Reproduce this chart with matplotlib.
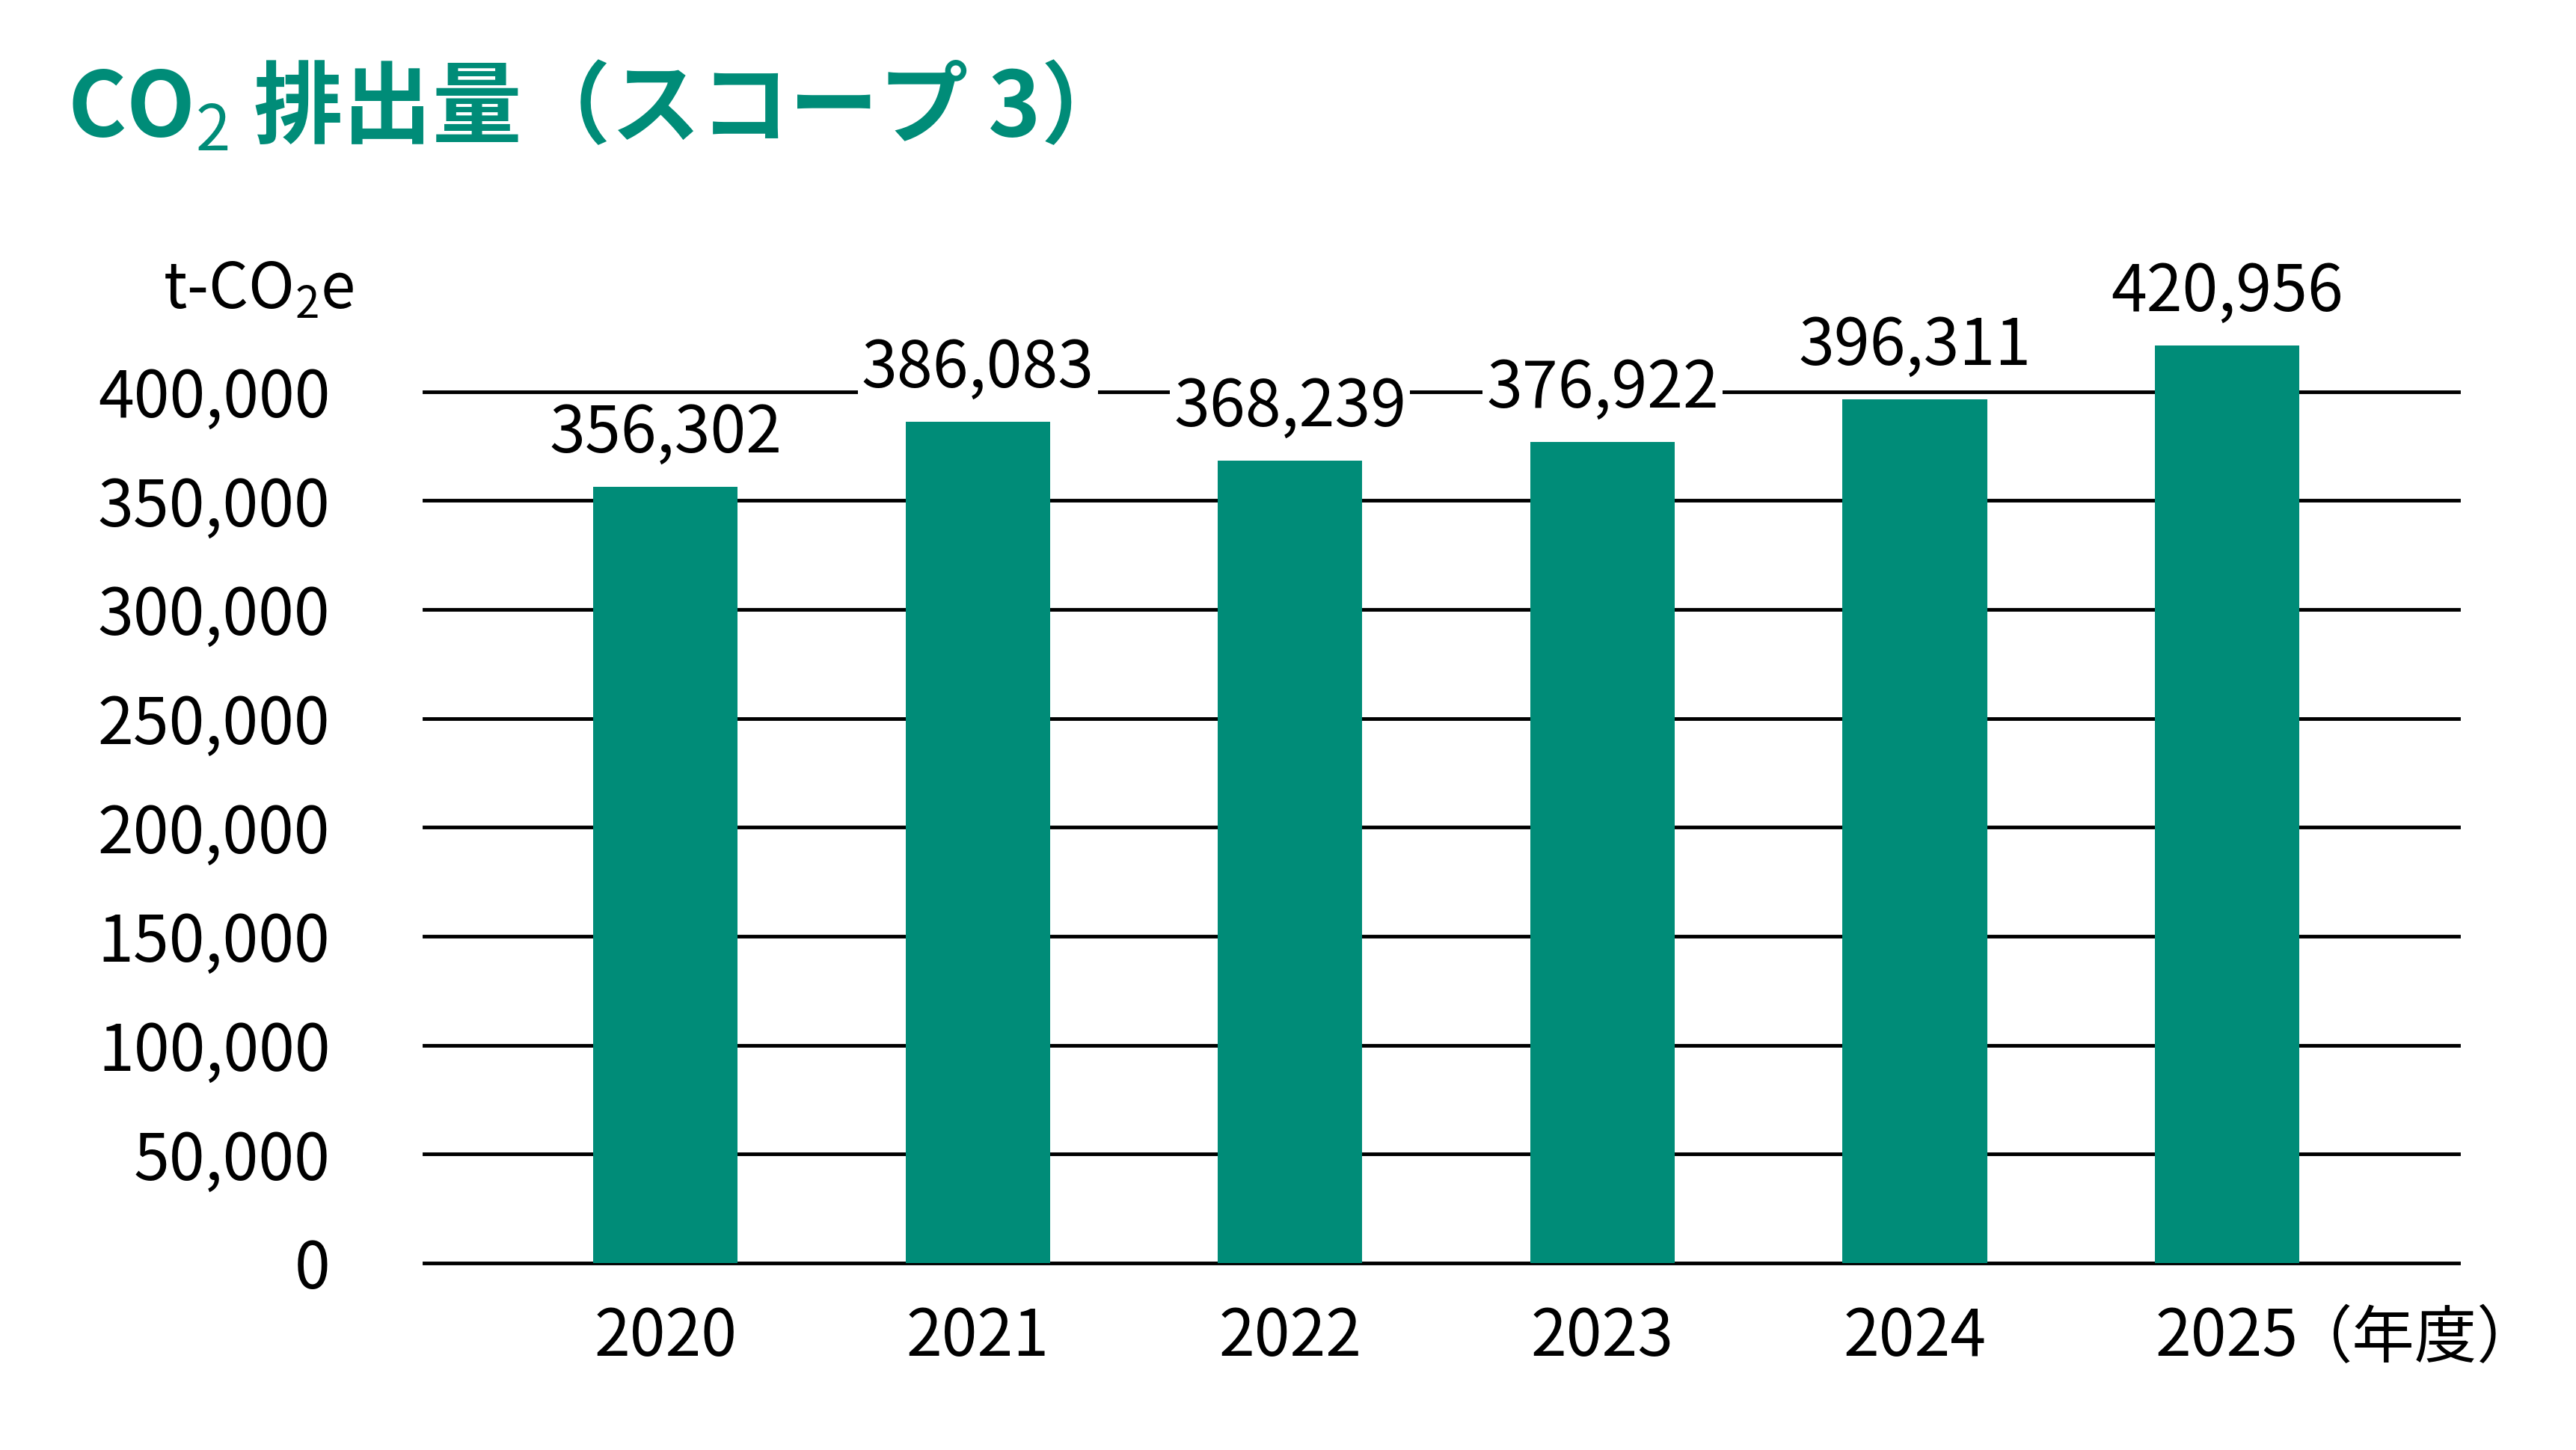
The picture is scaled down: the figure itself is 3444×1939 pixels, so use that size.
import matplotlib
matplotlib.use("Agg")
import matplotlib.pyplot as plt

plt.rcParams['font.family'] = ['Noto Sans CJK JP', 'DejaVu Sans']
plt.rcParams['mathtext.fontset'] = 'custom'
plt.rcParams['mathtext.rm'] = 'Noto Sans CJK JP'
plt.rcParams['mathtext.it'] = 'Noto Sans CJK JP'

years = ["2020", "2021", "2022", "2023", "2024", "2025"]
values = [356302, 386083, 368239, 376922, 396311, 420956]
yticks = [0, 50000, 100000, 150000, 200000, 250000, 300000, 350000, 400000]

teal = "#008C78"
fig = plt.figure(figsize=(34.44, 19.39), dpi=100)
ax = fig.add_axes([0.1645, 0.129, 0.790, 0.601])
x = list(range(len(years)))
bars = ax.bar(x, values, width=0.463, color=teal, zorder=3)
for b in bars:
    b.set_clip_on(False)
ax.set_xlim(-0.774, 5.742)
ax.set_ylim(0, 400000)
for t in yticks:
    ax.axhline(t, color="black", lw=3.5, zorder=1, clip_on=False)
for i, v in enumerate(values):
    ax.text(i, v + 9000, f"{v:,}", ha="center", va="bottom", fontsize=62,
            zorder=4, clip_on=False,
            bbox=dict(facecolor="white", edgecolor="none", pad=4))
ax.set_yticks(yticks)
ax.set_yticklabels([f"{t:,}" for t in yticks], fontsize=62)
ax.set_xticks(x)
ax.set_xticklabels(years, fontsize=62)
ax.tick_params(length=0, pad=40)
ax.tick_params(axis='y', pad=90)
for s in ax.spines.values():
    s.set_visible(False)
ax.text(5.2, -0.087, "（年度）", transform=ax.get_xaxis_transform(),
        ha="left", va="center", fontsize=60)
fig.text(0.1375, 0.80, "t-CO$_2$e", ha="right", va="center", fontsize=60)
fig.text(0.026, 0.925, "CO$_2$ 排出量（スコープ 3）", ha="left", va="center",
         fontsize=86, color=teal, fontweight="bold")
fig.savefig("out.png", dpi=100, facecolor="white")
